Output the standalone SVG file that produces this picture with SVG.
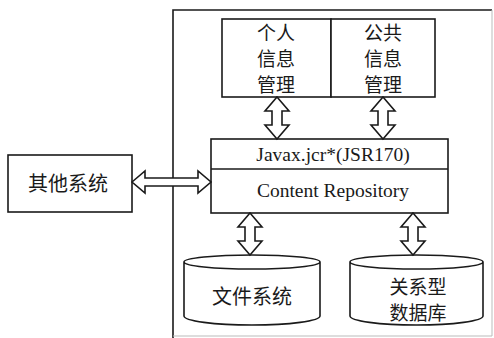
<svg xmlns="http://www.w3.org/2000/svg" width="494" height="338" viewBox="0 0 494 338">
<style>
.box{fill:#fff;stroke:#1a1a1a;stroke-width:1.6}
.arr{fill:#fff;stroke:#1a1a1a;stroke-width:1.6;stroke-linejoin:miter}
.cn{font-family:"Noto Sans CJK SC","Noto Sans",sans-serif;font-size:19px;fill:#1a1a1a;text-anchor:middle}
.en{font-family:"Liberation Serif","Times New Roman",serif;font-size:19.5px;fill:#1a1a1a;text-anchor:middle}
</style>
<rect width="494" height="338" fill="#fff"/>
<g id="frame">
<path d="M173,338 L173,10 L492,10" fill="none" stroke="#1a1a1a" stroke-width="1.6"/>
<path d="M492,10 L492,336 L173,336" fill="none" stroke="#bbb" stroke-width="1"/>
</g>
<g id="personal">
<rect class="box" x="222" y="19" width="109" height="78"/>
<text class="cn" x="276" y="40">个人</text>
<text class="cn" x="276" y="66">信息</text>
<text class="cn" x="276" y="92">管理</text>
</g>
<g id="public">
<rect class="box" x="331" y="19" width="104" height="78"/>
<text class="cn" x="383" y="40">公共</text>
<text class="cn" x="383" y="66">信息</text>
<text class="cn" x="383" y="92">管理</text>
</g>
<g id="repository">
<rect class="box" x="211" y="139" width="237" height="74"/>
<line x1="211" y1="169" x2="448" y2="169" stroke="#1a1a1a" stroke-width="1.6"/>
<text class="en" x="333" y="161">Javax.jcr*(JSR170)</text>
<text class="en" x="333" y="197">Content Repository</text>
</g>
<g id="other">
<rect class="box" x="8" y="155" width="124" height="57"/>
<text class="cn" x="68" y="191" style="font-size:20px">其他系统</text>
</g>
<g id="filesystem">
<path class="box" d="M184,262 L184,316 A68,9 0 0 0 320,316 L320,262 A68,7 0 0 0 184,262 A68,7 0 0 0 320,262"/>
<text class="cn" x="252" y="304" style="font-size:20px">文件系统</text>
</g>
<g id="rdb">
<path class="box" d="M350,262 L350,316 A66.5,9 0 0 0 483,316 L483,262 A66.5,7 0 0 0 350,262 A66.5,7 0 0 0 483,262"/>
<text class="cn" x="418" y="294">关系型</text>
<text class="cn" x="418" y="320">数据库</text>
</g>
<g id="connectors">
<path class="arr" d="M277,97 L289,111 L282,111 L282,125 L289,125 L277,139 L265,125 L272,125 L272,111 L265,111 Z"/>
<path class="arr" d="M383,97 L395,111 L388,111 L388,125 L395,125 L383,139 L371,125 L378,125 L378,111 L371,111 Z"/>
<path class="arr" d="M250,213 L262,227 L255,227 L255,241 L262,241 L250,255 L238,241 L245,241 L245,227 L238,227 Z"/>
<path class="arr" d="M413,213 L425,227 L418,227 L418,241 L425,241 L413,255 L401,241 L408,241 L408,227 L401,227 Z"/>
<path class="arr" d="M132,182 L145,171 L145,178 L198,178 L198,171 L211,182 L198,193 L198,186 L145,186 L145,193 Z"/>
</g>
</svg>
